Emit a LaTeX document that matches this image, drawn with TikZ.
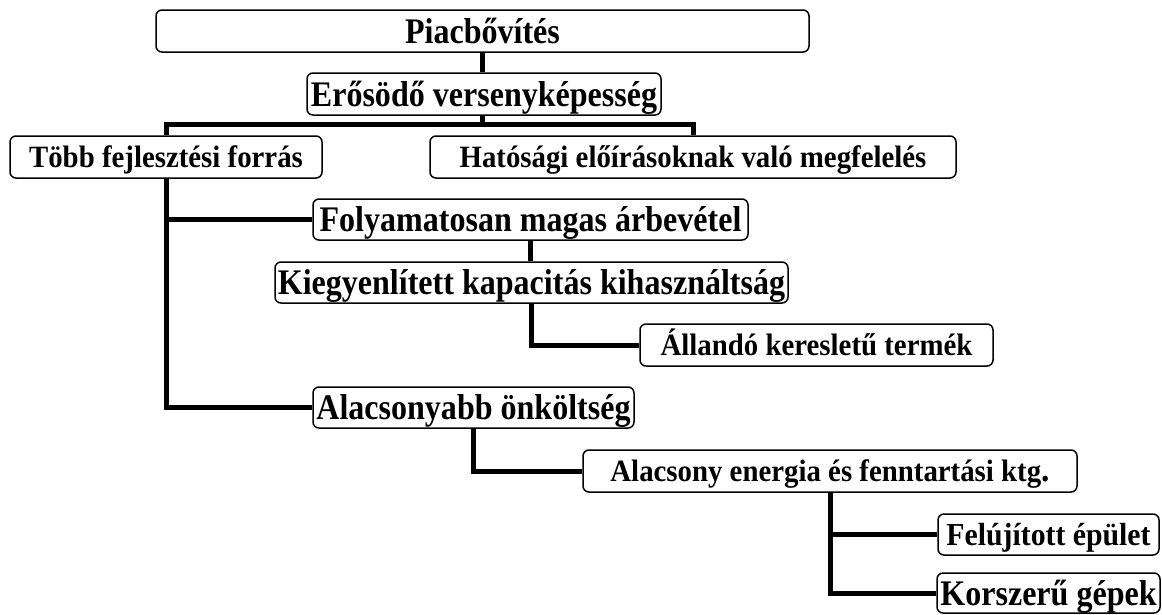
\documentclass[tikz,border=0pt]{standalone}
\usepackage{fontspec}
\setmainfont{Liberation Serif}
% narrow, tall cuts of the serif face for the labels
\newfontfamily\tallserif{Liberation Serif}[FakeStretch=0.89]
\newfontfamily\midserif{Liberation Serif}[FakeStretch=0.93]
\begin{document}
\begin{tikzpicture}[x=1pt,y=-1pt,
  box/.style={draw, line width=1.5pt, rounded corners=6pt, fill=white,
    inner sep=0pt, align=center},
  big/.style={box, font=\fontsize{36}{40}\selectfont\tallserif\bfseries,
    text height=24pt, text depth=0pt},
  small/.style={box, font=\fontsize{31}{35}\selectfont\midserif\bfseries,
    text height=20.5pt, text depth=0pt},
  link/.style={line width=5pt, line join=miter}]
\useasboundingbox (0,0) rectangle (1162,614);

% boxes of the tree
\node[big, minimum width=653pt, minimum height=42pt] (piac) at (482.5,31) {Piacbővítés};
\node[big, minimum width=354pt, minimum height=42pt] (eros) at (484,94) {Erősödő versenyképesség};
\node[small, minimum width=312pt, minimum height=42pt] (tobb) at (166,157) {Több fejlesztési forrás};
\node[small, minimum width=526pt, minimum height=42pt] (hat) at (693,157) {Hatósági előírásoknak való megfelelés};
\node[big, minimum width=435pt, minimum height=41pt] (foly) at (530.5,219.5) {Folyamatosan magas árbevétel};
\node[big, minimum width=513pt, minimum height=41pt] (kieg) at (531.5,282.5) {Kiegyenlített kapacitás kihasználtság};
\node[small, minimum width=353pt, minimum height=42pt] (alland) at (816.5,345) {Állandó keresletű termék};
\node[big, minimum width=321pt, minimum height=41pt] (alac) at (473.5,407.5) {Alacsonyabb önköltség};
\node[small, minimum width=494pt, minimum height=42pt] (energ) at (830,471)
  {Alacsony energia és fenntartási ktg{\fontsize{36}{40}\selectfont.}};
\node[box, font=\fontsize{32}{36}\selectfont\midserif\bfseries, text height=21pt, text depth=0pt,
  minimum width=221pt, minimum height=41pt] (feluj) at (1048.5,534.5) {Felújított épület};
\node[big, minimum width=223pt, minimum height=40pt] (korsz) at (1048.5,593) {Korszerű gépek};

% connectors
\coordinate (bar) at (482,124);
\draw[link] (piac.south) -- (piac.south |- eros.north);
\draw[link] (bar |- eros.south) -- (bar);
\draw[link] (tobb.north) |- (bar) -| (hat.north);
\draw[link] (tobb.south) |- (foly.west);
\draw[link] (tobb.south) |- (alac.west);
\draw[link] (foly.south) -- (foly.south |- kieg.north);
\draw[link] (kieg.south) |- (alland.west);
\draw[link] (alac.south) |- (energ.west);
\draw[link] (energ.south) |- (feluj.west);
\draw[link] (energ.south) |- (korsz.west);
\end{tikzpicture}
\end{document}
